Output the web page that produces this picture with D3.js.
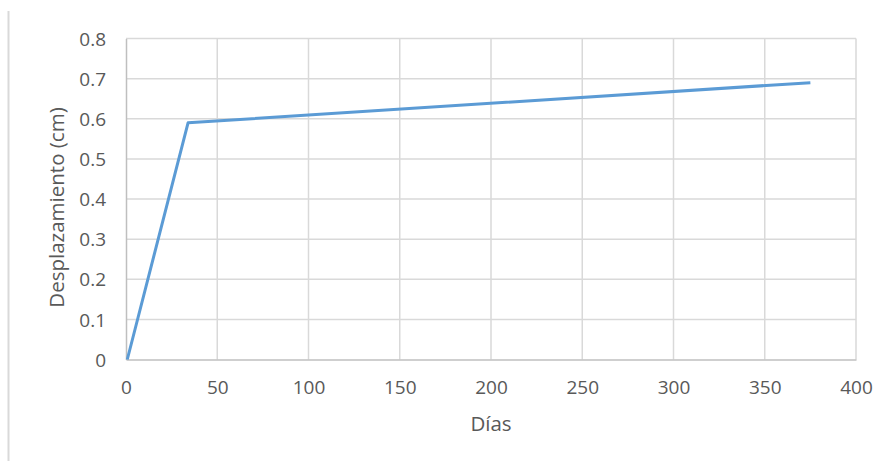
<!DOCTYPE html>
<html>
<head>
<meta charset="utf-8">
<script src="https://cdn.jsdelivr.net/npm/d3@7"></script>
<style>
  html, body { margin: 0; padding: 0; background: #fff; }
  svg { display: block; }
  text { font-family: "Open Sans", "Liberation Sans", sans-serif; fill: #595959; }
</style>
</head>
<body>
<svg id="chart" width="885" height="461"></svg>
<script>
// Displacement over time
const dias = [0.7, 34, 375];
const desplazamiento = [0, 0.59, 0.69];
const xTicks = [0, 50, 100, 150, 200, 250, 300, 350, 400];
const yTicks = [0, 0.1, 0.2, 0.3, 0.4, 0.5, 0.6, 0.7, 0.8];

const svg = d3.select("#chart");
const plotLeft = 126, plotRight = 856, plotTop = 38.5, plotBottom = 359.5;

const x = d3.scaleLinear().domain([0, 400]).range([plotLeft, plotRight]);
const y = d3.scaleLinear().domain([0, 0.8]).range([plotBottom, plotTop]);

// frame line on the left edge
svg.append("line")
  .attr("x1", 8.5).attr("x2", 8.5).attr("y1", 11).attr("y2", 461)
  .attr("stroke", "#d9d9d9").attr("stroke-width", 2);

// gridlines
svg.append("g").selectAll("line").data(yTicks.slice(1)).join("line")
  .attr("x1", plotLeft).attr("x2", plotRight)
  .attr("y1", d => y(d)).attr("y2", d => y(d))
  .attr("stroke", "#d9d9d9").attr("stroke-width", 1.5);
svg.append("g").selectAll("line").data(xTicks.slice(1)).join("line")
  .attr("x1", d => x(d)).attr("x2", d => x(d))
  .attr("y1", plotTop).attr("y2", plotBottom)
  .attr("stroke", "#d9d9d9").attr("stroke-width", 1.5);

// axes
const xAxis = d3.axisBottom(x).tickValues(xTicks).tickSize(0).tickPadding(12).tickFormat(d3.format("d"));
const yAxis = d3.axisLeft(y).tickValues(yTicks).tickSize(0).tickPadding(20).tickFormat(d => d === 0 ? "0" : d3.format(".1f")(d));

const gx = svg.append("g").attr("transform", `translate(0,${plotBottom})`).call(xAxis);
const gy = svg.append("g").attr("transform", `translate(${plotLeft},0)`).call(yAxis);
[gx, gy].forEach(g => {
  g.select(".domain").attr("stroke", "#bfbfbf").attr("stroke-width", 1.5);
  g.selectAll("text").style("font-size", "19px").attr("fill", "#595959");
});
gx.selectAll("text").attr("dy", "0.75em").attr("y", 20);
gy.selectAll("text").attr("dy", "0.35em").attr("x", -20);

// series line
const pts = dias.map((d, i) => [d, desplazamiento[i]]);
svg.append("path")
  .datum(pts)
  .attr("fill", "none")
  .attr("stroke", "#5b9bd5")
  .attr("stroke-width", 3)
  .attr("stroke-linejoin", "round")
  .attr("d", d3.line().x(d => x(d[0])).y(d => y(d[1])));

// axis titles
svg.append("text")
  .attr("x", 491).attr("y", 431)
  .attr("text-anchor", "middle")
  .style("font-size", "20.5px")
  .text("Días");
svg.append("text")
  .attr("transform", `translate(64,207.5) rotate(-90)`)
  .attr("text-anchor", "middle")
  .style("font-size", "20.5px")
  .text("Desplazamiento (cm)");
</script>
</body>
</html>
